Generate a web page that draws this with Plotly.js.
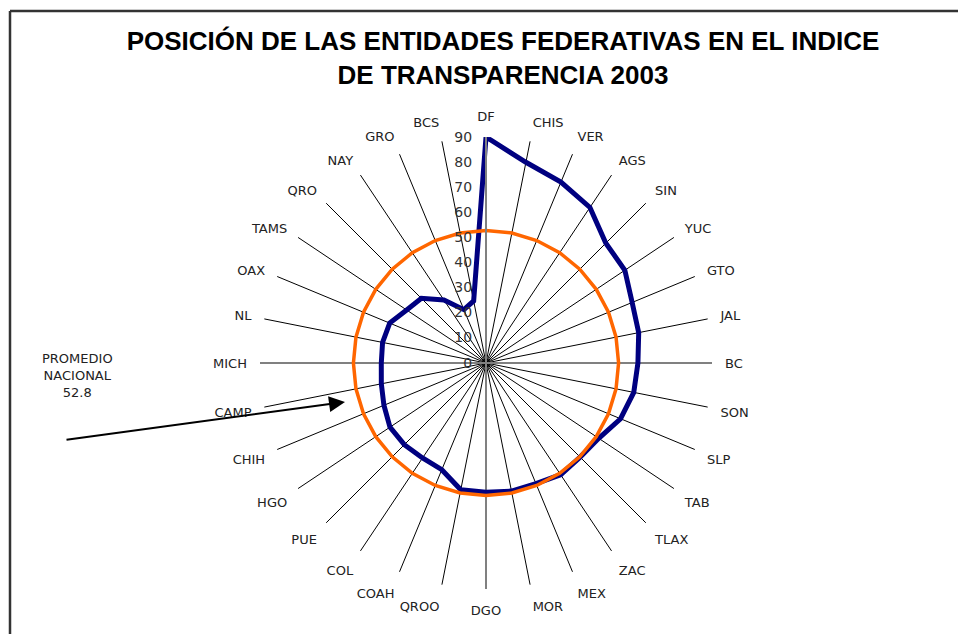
<!DOCTYPE html>
<html>
<head>
<meta charset="utf-8">
<script src="https://cdn.plot.ly/plotly-3.0.1.min.js"></script>
<style>html,body{margin:0;padding:0;background:#fff;}#chart{width:958px;height:634px;}</style>
</head>
<body>
<div id="chart"></div>
<script>
// Data
const entidades = ["DF","CHIS","VER","AGS","SIN","YUC","GTO","JAL","BC","SON","SLP","TAB","TLAX","ZAC","MEX","MOR","DGO","QROO","COAH","COL","PUE","HGO","CHIH","CAMP","MICH","NL","OAX","TAMS","QRO","NAY","GRO","BCS"];
const indice2003 = [90,81.5,78,74.5,67.5,66.5,63,62,60.5,60,58,54,53,53.5,52,52,51.5,51.5,46,45.5,46,46,44,42.5,41.7,42,41.5,38,36.4,30.2,23,25.2];
const promedioNacional = 52.8;
const radialTicks = [0,10,20,30,40,50,60,70,80,90];
const radialMax = 90;

// closed polygons
const thetaClosed = entidades.concat([entidades[0]]);
const indiceClosed = indice2003.concat([indice2003[0]]);
const promedioClosed = thetaClosed.map(() => promedioNacional);

const traces = [
  { // main axes (vertical and horizontal) in gray
    type: 'scatterpolar', mode: 'lines',
    r: [radialMax, 0, radialMax, null, radialMax, 0, radialMax],
    theta: [entidades[16], entidades[16], entidades[0], null, entidades[24], entidades[24], entidades[8]],
    line: {color: '#808080', width: 2}, hoverinfo: 'skip', showlegend: false, connectgaps: false
  },
  {
    type: 'scatterpolar', mode: 'lines', name: 'Índice 2003',
    r: indiceClosed, theta: thetaClosed,
    line: {color: '#000080', width: 5}, showlegend: false
  },
  {
    type: 'scatterpolar', mode: 'lines', name: 'Promedio nacional',
    r: promedioClosed, theta: thetaClosed,
    line: {color: '#FF6600', width: 3.5}, showlegend: false
  }
];

const W = 958, H = 634;
const cx = 486, cy = 363, R = 226;

const layout = {
  width: W, height: H,
  margin: {l: 0, r: 0, t: 0, b: 0},
  paper_bgcolor: '#fff',
  showlegend: false,
  title: {
    text: 'POSICIÓN DE LAS ENTIDADES FEDERATIVAS EN EL INDICE<br>DE TRANSPARENCIA 2003',
    font: {family: 'Liberation Sans, Arial, sans-serif', size: 26, color: '#000', weight: 'bold'},
    x: 503 / W, xanchor: 'center', y: 1 - 50 / H, yanchor: 'top'
  },
  polar: {
    domain: {x: [(cx - R) / W, (cx + R) / W], y: [1 - (cy + R) / H, 1 - (cy - R) / H]},
    bgcolor: '#fff',
    angularaxis: {
      type: 'category', categoryarray: entidades,
      rotation: 90, direction: 'clockwise',
      showline: false, showgrid: true, gridcolor: '#000', gridwidth: 1,
      ticks: 'outside', ticklen: 10, tickcolor: 'rgba(0,0,0,0)',
      tickfont: {family: 'DejaVu Sans, sans-serif', size: 13, color: '#222'}
    },
    radialaxis: {
      range: [0, radialMax], tickvals: radialTicks, ticktext: radialTicks.map(String),
      angle: 90, side: 'counterclockwise', tickangle: 90,
      showgrid: false, showline: true, linecolor: '#808080', linewidth: 2,
      ticks: 'outside', ticklen: 8, tickcolor: 'rgba(0,0,0,0)',
      tickfont: {family: 'DejaVu Sans, sans-serif', size: 14, color: '#333'}
    }
  },
  shapes: [
    {type: 'line', xref: 'paper', yref: 'paper', x0: 10 / W, x1: 1, y0: 1 - 11 / H, y1: 1 - 11 / H, line: {color: '#333', width: 2.5}},
    {type: 'line', xref: 'paper', yref: 'paper', x0: 10 / W, x1: 10 / W, y0: 1 - 11 / H, y1: 0, line: {color: '#333', width: 2.5}}
  ],
  annotations: [
    {
      xref: 'paper', yref: 'paper', x: 77 / W, y: 1 - 375 / H, xanchor: 'center', yanchor: 'middle',
      text: 'PROMEDIO<br>NACIONAL<br>' + promedioNacional.toFixed(1),
      showarrow: false, align: 'center',
      font: {family: 'DejaVu Sans, sans-serif', size: 13, color: '#222'}
    },
    {
      xref: 'paper', yref: 'paper', x: 345 / W, y: 1 - 402 / H,
      text: '', showarrow: true, arrowhead: 2, arrowsize: 1.6, arrowwidth: 2, arrowcolor: '#000',
      ax: -280, ay: 38
    }
  ]
};

Plotly.newPlot('chart', traces, layout, {displayModeBar: false, staticPlot: true});
</script>
</body>
</html>
